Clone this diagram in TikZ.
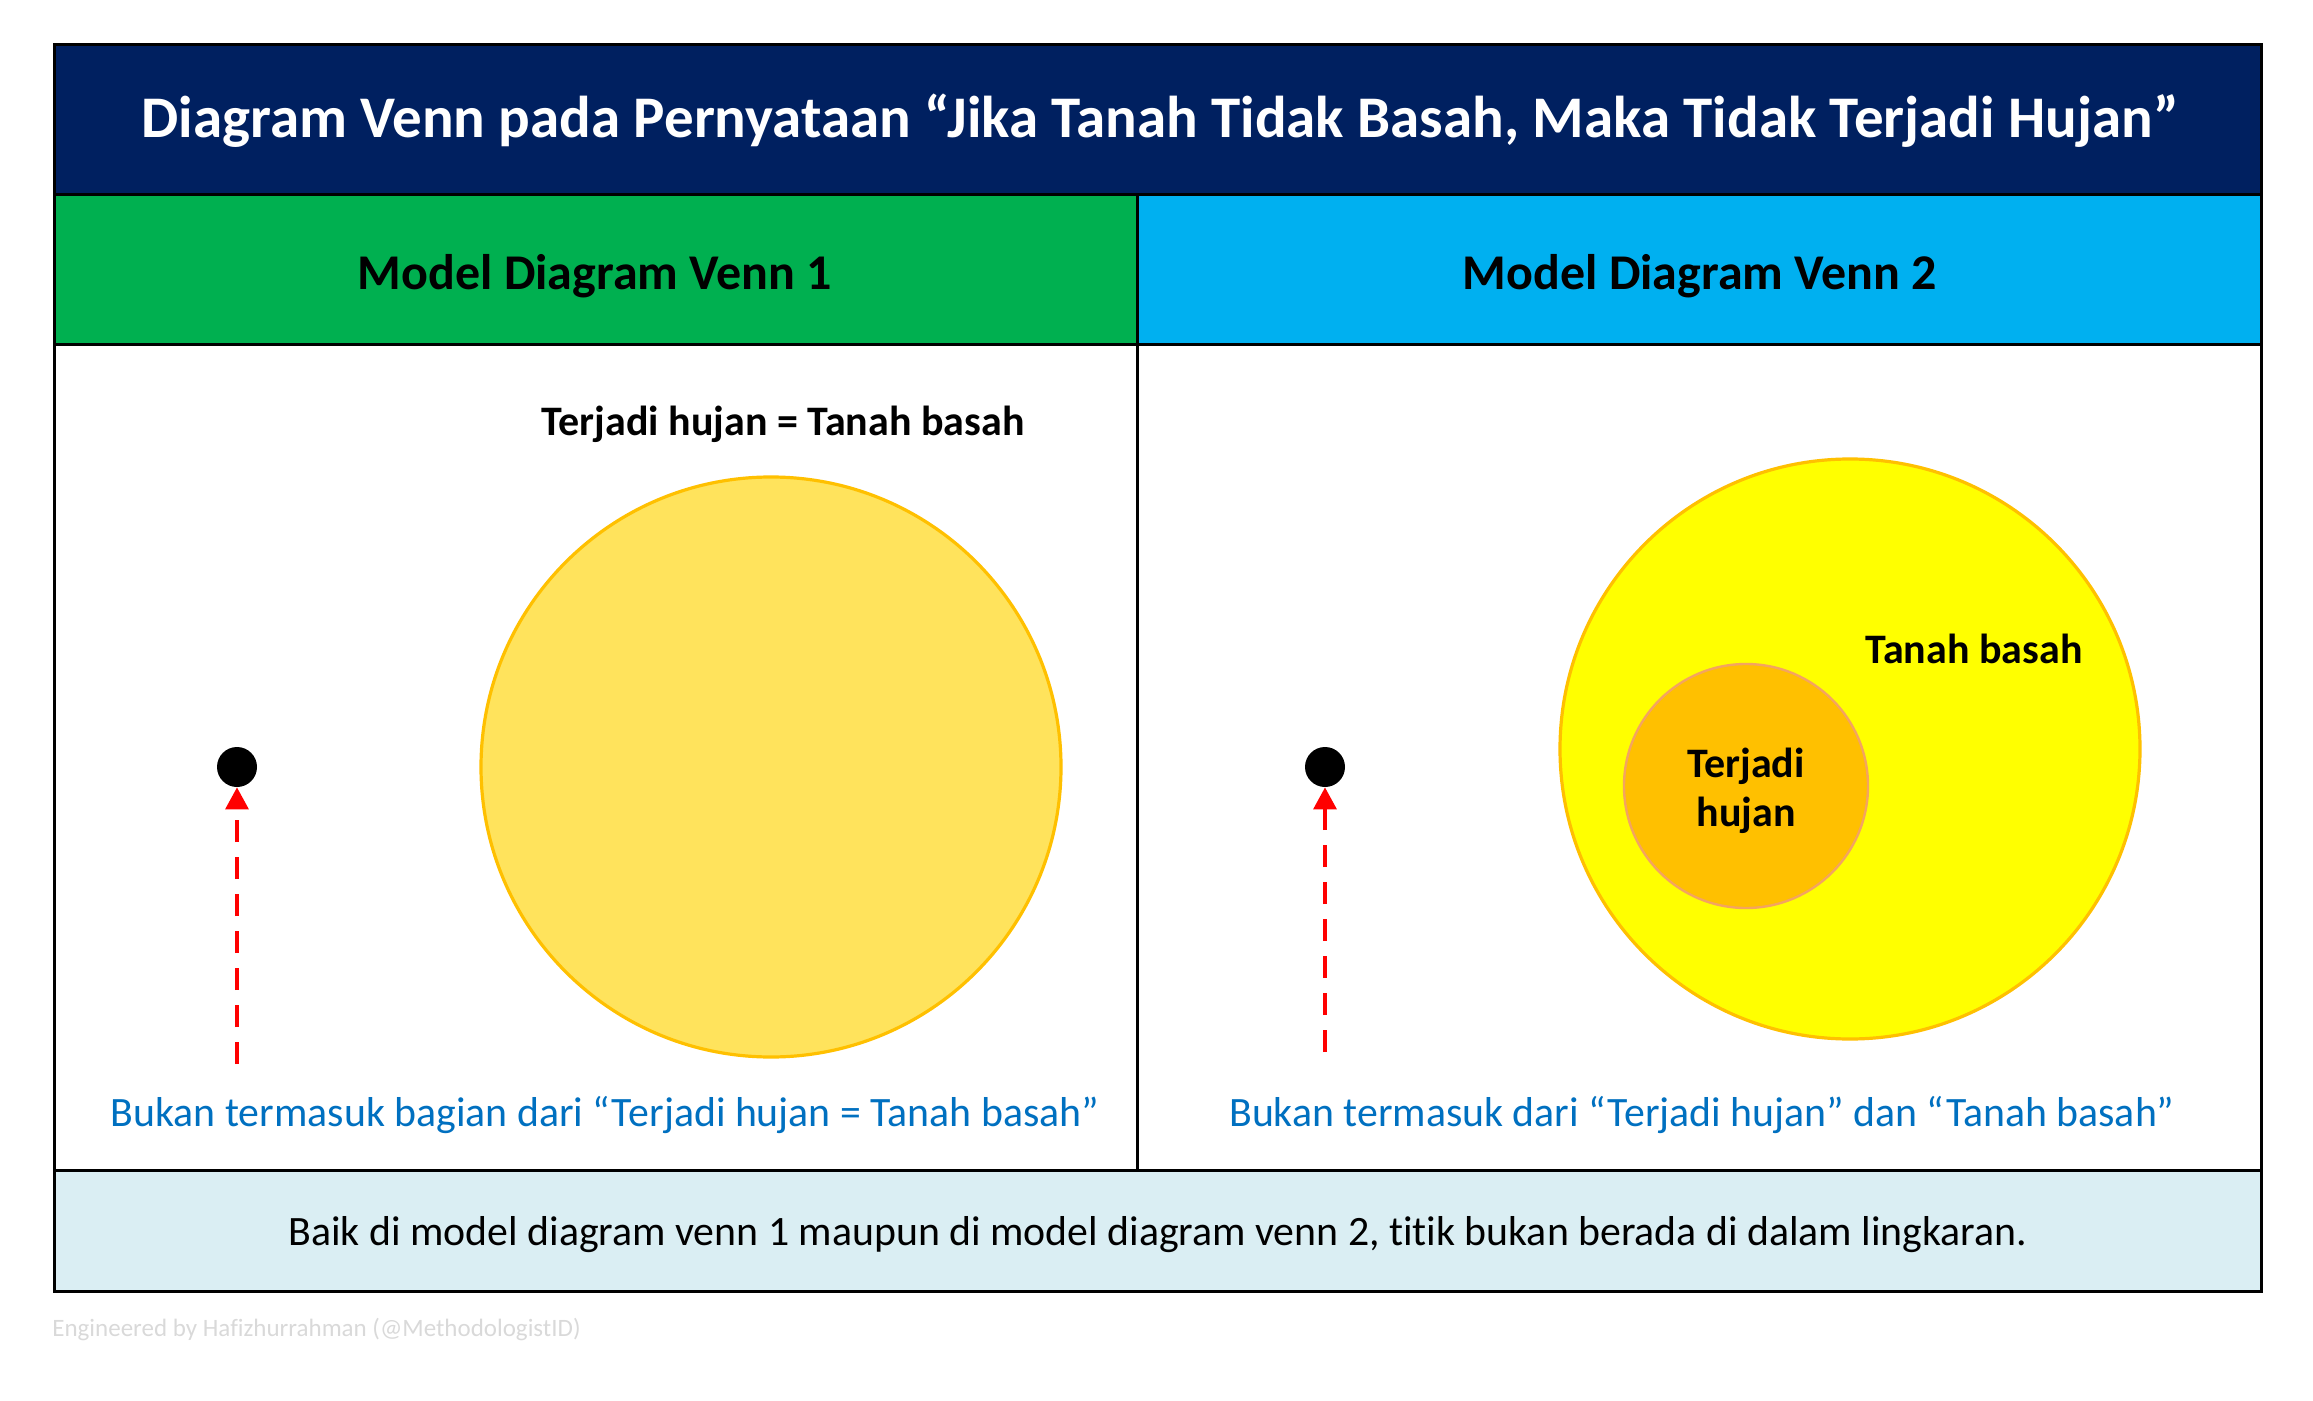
\documentclass[tikz,border=0pt]{standalone}
\usepackage{fontspec}
\setmainfont[Ligatures=NoCommon]{Carlito}
\usetikzlibrary{arrows.meta}
\definecolor{navy}{HTML}{002060}
\definecolor{hgreen}{HTML}{00B050}
\definecolor{hblue}{HTML}{00B0F0}
\definecolor{botband}{HTML}{DAEEF3}
\definecolor{goldfill}{HTML}{FFE35C}
\definecolor{goldline}{HTML}{FFC000}
\definecolor{pureyellow}{HTML}{FFFF00}
\definecolor{innerline}{HTML}{F4A460}
\definecolor{txtblue}{HTML}{0070C0}
\definecolor{footgray}{HTML}{D9D9D9}
\tikzset{
  frameline/.style={line width=1.5pt, draw=black},
  hdrtext/.style={font=\fontsize{25}{30}\selectfont\bfseries, text=black},
  lbltext/.style={font=\fontsize{21}{25}\selectfont\bfseries, text=black, align=center},
  bluetext/.style={font=\fontsize{20.9}{25}\selectfont, text=txtblue},
  dotnode/.style={circle, fill=black, minimum size=20pt, inner sep=0pt},
  ptrarrow/.style={draw=red, line width=1.7pt, dash pattern=on 11pt off 7.5pt, -{Triangle[width=11.5pt,length=11pt]}},
}
\begin{document}
\begin{tikzpicture}[x=0.5pt,y=-0.5pt]
\useasboundingbox (0,0) rectangle (2313,1401);
% bands
\fill[navy] (54,45) rectangle (2261,195);
\fill[hgreen] (54,195) rectangle (1137,345);
\fill[hblue] (1137,195) rectangle (2261,345);
\fill[white] (54,345) rectangle (2261,1170);
\fill[botband] (54,1170) rectangle (2261,1291);
% lines
\draw[frameline] (54,45) rectangle (2261,1291);
\draw[frameline] (54,195) -- (2261,195);
\draw[frameline] (54,345) -- (2261,345);
\draw[frameline] (54,1170) -- (2261,1170);
\draw[frameline] (1137,195) -- (1137,1170);
% title
\node[font=\fontsize{29.5}{34}\selectfont\bfseries, text=white] (title) at (1160,121) {Diagram Venn pada Pernyataan “Jika Tanah Tidak Basah, Maka Tidak Terjadi Hujan”};
\node[hdrtext] (h1) at (595,276) {Model Diagram Venn 1};
\node[hdrtext] (h2) at (1700,276) {Model Diagram Venn 2};
% venn 1
\node[circle, minimum size=290pt, inner sep=0pt, fill=goldfill, draw=goldline, line width=1.6pt] (c1) at (771,767) {};
\node[lbltext] (l1) at (783,424) {Terjadi hujan = Tanah basah};
\node[dotnode] (d1) at (237,767) {};
\coordinate (a1) at (237,1064);
\draw[ptrarrow] (a1) -- (d1.south);
\node[bluetext] (b1) at (605,1115) {Bukan termasuk bagian dari “Terjadi hujan = Tanah basah”};
% venn 2
\node[circle, minimum size=290pt, inner sep=0pt, fill=pureyellow, draw=goldline, line width=1.6pt] (c2) at (1850,749) {};
\node[circle, minimum size=122pt, inner sep=0pt, fill=goldline, draw=innerline, line width=1.2pt] (c3) at (1746,786) {};
\node[lbltext] (l2) at (1974,649) {Tanah basah};
\node[lbltext, font=\fontsize{21}{24.5}\selectfont\bfseries] (l3) at (1746,791) {Terjadi\\hujan};
\node[dotnode] (d2) at (1325,767) {};
\coordinate (a2) at (1325,1052);
\draw[ptrarrow] (a2) -- (d2.south);
\node[bluetext] (b2) at (1702,1115) {Bukan termasuk dari “Terjadi hujan” dan “Tanah basah”};
% bottom
\node[font=\fontsize{20.9}{25}\selectfont, text=black] (bt) at (1158,1235) {Baik di model diagram venn 1 maupun di model diagram venn 2, titik bukan berada di dalam lingkaran.};
\node[anchor=west, font=\fontsize{12.5}{15}\selectfont, text=footgray, inner sep=0pt] (ft) at (52,1329) {Engineered by Hafizhurrahman (@MethodologistID)};
\end{tikzpicture}
\end{document}
